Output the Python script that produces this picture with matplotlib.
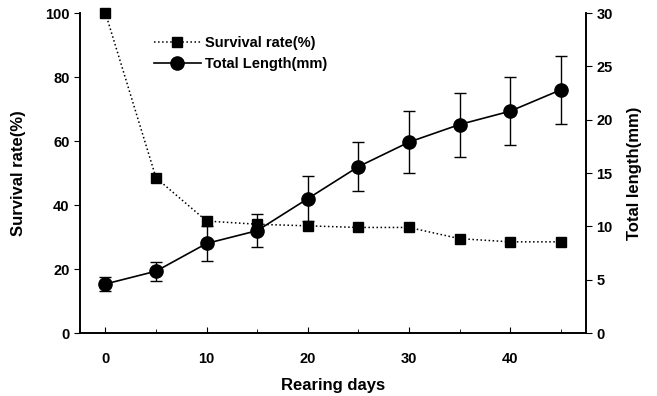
import matplotlib.pyplot as plt
from matplotlib.lines import Line2D
from matplotlib.ticker import MultipleLocator

plt.rcParams['font.family'] = ['Liberation Sans', 'DejaVu Sans']
plt.rcParams['font.weight'] = 'bold'

days = [0, 5, 10, 15, 20, 25, 30, 35, 40, 45]
survival = [100, 48.5, 35, 34, 33.5, 33, 33, 29.5, 28.5, 28.5]
length = [4.6, 5.8, 8.4, 9.6, 12.6, 15.6, 17.9, 19.55, 20.8, 22.8]
length_err = [0.65, 0.9, 1.6, 1.55, 2.1, 2.3, 2.9, 3.0, 3.2, 3.2]

fig = plt.figure(figsize=(6.57, 3.96), dpi=100)
ax = fig.add_axes([0.122, 0.159, 0.770, 0.808])
ax2 = ax.twinx()

l1, = ax.plot(days, survival, ':', color='black', lw=1.1, marker='s',
              markersize=7.5, zorder=4, clip_on=False)
ax.set_zorder(ax2.get_zorder() + 1)
ax.patch.set_visible(False)
ax2.errorbar(days, length, yerr=length_err, fmt='-o', color='black',
             lw=1.2, markersize=9.5, capsize=4, elinewidth=1.0, capthick=1.0)
l2 = Line2D([], [], color='black', lw=1.2, marker='o', markersize=9.5)

ax.set_xlim(-2.5, 47.5)
ax.set_ylim(0, 100)
ax2.set_ylim(0, 30)
ax.set_xticks([0, 10, 20, 30, 40])
ax.xaxis.set_minor_locator(MultipleLocator(5))
ax.set_yticks([0, 20, 40, 60, 80, 100])
ax2.set_yticks([0, 5, 10, 15, 20, 25, 30])

for a in (ax, ax2):
    a.spines['top'].set_visible(False)
    for s in a.spines.values():
        s.set_linewidth(1.2)
ax.tick_params(axis='x', direction='in', length=4, labelsize=10.5, pad=14)
ax.tick_params(axis='x', which='minor', direction='in', length=3)
ax.tick_params(axis='y', direction='out', length=4, labelsize=10.5)
ax2.tick_params(axis='y', direction='out', length=4, labelsize=10.5)

ax.set_xlabel('Rearing days', fontsize=12, fontweight='bold', labelpad=8)
ax.set_ylabel('Survival rate(%)', fontsize=12, fontweight='bold', labelpad=14)
ax2.set_ylabel('Total length(mm)', fontsize=12, fontweight='bold', labelpad=10)

ax.legend([l1, l2], ['Survival rate(%)', 'Total Length(mm)'],
          loc='upper left', bbox_to_anchor=(0.12, 0.97), frameon=False,
          fontsize=10.5, handlelength=3.2, handletextpad=0.3, labelspacing=0.5)

fig.savefig('out.png', dpi=100)
